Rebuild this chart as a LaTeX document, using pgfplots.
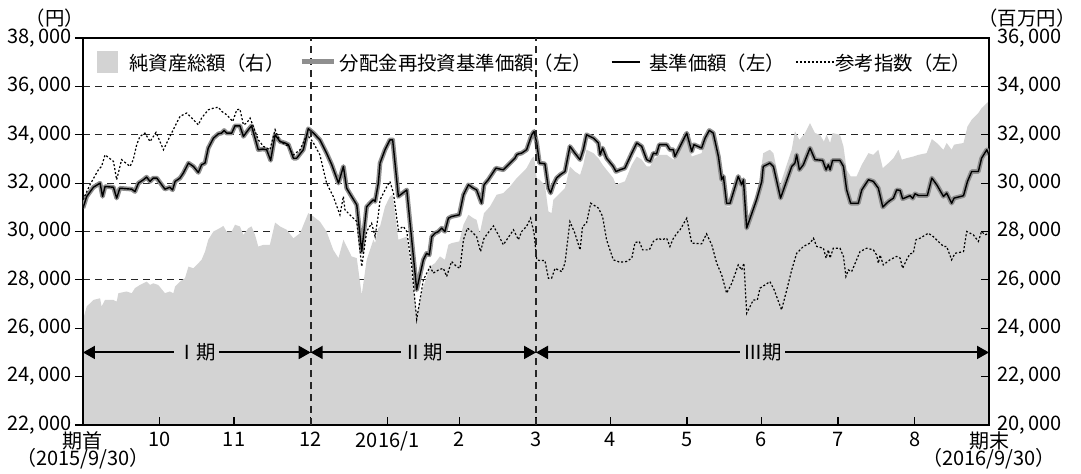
\documentclass[border=0pt]{standalone}
\usepackage{fontspec}
\setmainfont{Noto Sans CJK JP}
\usepackage{pgfplots}
\usepackage{pgfplotstable}
\pgfplotsset{compat=1.18}
\usetikzlibrary{arrows.meta}
\definecolor{areagray}{HTML}{D3D3D3}
\definecolor{navgray}{HTML}{8F8F8F}

% 基準価額（分配金再投資基準価額も同じ値）
\pgfplotstableread{
d v
0 30970
1.5 31450
4.2 31830
6.9 32000
7.9 31450
8.9 31860
12.3 31830
13.6 31380
14.9 31790
19.7 31750
21.0 31650
22.4 32000
24.4 32140
25.7 32250
27.1 32070
28.4 32210
29.8 32210
33.1 31750
35.1 31830
36.2 31720
37.2 32070
39.2 32210
40.5 32410
42.6 32830
44.6 32690
46.6 32440
47.9 32760
49.3 32830
50.6 33450
52.7 33860
54.7 34040
56.0 34070
57.0 34180
58.0 34070
60.1 34070
61.4 34370
63.4 34370
64.8 33930
66.8 34210
68.1 34370
69.5 33860
70.8 33380
72.6 33410
74.2 33380
75.8 32940
77.6 34000
79.6 33720
81.6 33660
83.0 33590
85.0 33030
86.3 33030
89.0 33380
91.0 34250
93.1 34070
95.7 33790
98.4 33240
100.5 32760
103.2 32000
105.2 32690
106.5 31790
108.5 31450
110.6 31100
112.6 29170
114.6 31030
117.3 31310
118.0 31240
119.3 32000
120.0 32830
122.0 33380
124.0 33790
125.1 33790
127.4 31450
130.8 31720
134.8 27590
137.5 28830
138.8 29100
139.9 29030
140.9 29790
142.2 29930
143.6 30000
144.9 30140
146.2 30000
147.6 30550
148.9 30620
152.0 30690
153.7 31520
155.7 31930
157.7 31790
159.0 31720
161.0 31170
162.0 31930
163.7 32140
166.8 32620
169.8 32550
172.5 32830
174.5 33030
175.2 33170
175.9 33210
177.2 33240
179.2 33380
179.9 33590
181.3 34000
182.2 34140
183.3 33660
184.4 32830
186.6 32800
188.0 31790
188.9 31590
190.0 31930
191.3 32210
192.7 32340
194.7 32480
196.7 33520
198.7 33240
200.8 32970
202.1 33380
203.4 34000
206.2 33860
208.2 33660
208.9 33170
209.9 33450
211.5 33030
214.2 32690
215.3 32480
216.9 32550
218.9 32620
221.7 33240
223.7 33660
225.7 33520
227.7 32970
229.1 32900
230.4 33240
231.7 33210
232.8 33590
235.8 33590
237.1 33380
238.5 33380
239.1 33100
240.5 33380
241.2 33520
243.9 34070
245.9 33310
246.8 33590
249.9 33450
251.3 33860
253.0 34180
254.6 34070
256.7 33100
258.0 32140
258.7 32280
260.0 31170
261.4 31170
264.7 32280
266.1 31930
266.8 32140
268.1 30140
272.1 31310
274.2 32070
274.8 32690
277.5 32830
278.9 32690
281.8 31380
286.3 32690
287.6 32830
288.3 33170
289.4 32550
291.0 32760
293.7 33450
295.7 32970
298.8 32940
300.2 32550
301.1 32760
301.8 32550
302.8 32940
305.8 32940
307.2 32690
308.5 31720
310.1 31170
313.2 31170
314.6 31720
317.3 32140
319.3 32070
321.3 31790
323.1 31010
325.4 31240
327.4 31380
328.7 31720
330.1 31700
331.1 31350
332.7 31420
334.1 31480
335.2 31370
336.1 31560
337.5 31490
341.1 31490
342.9 32210
344.9 31930
347.6 31450
348.9 31590
350.9 31170
351.9 31380
355.7 31480
357.3 32070
359.0 32480
361.7 32480
363.0 33030
365.1 33380
366.0 33170
}\navtable

% 参考指数
\pgfplotstableread{
d v
0 31310
2.8 31930
6.2 32550
7.5 32690
8.9 33170
12.3 32900
13.6 32140
15.6 32970
19.0 32690
20.3 32970
21.7 33590
23.0 33930
25.0 34070
27.1 33720
29.5 34100
32.5 33380
35.1 33930
37.8 34480
39.2 34760
41.9 34900
44.6 34620
46.6 34410
47.9 34690
50.6 35030
52.7 35100
54.7 35140
56.0 34970
58.0 34830
60.5 34550
62.1 35030
63.4 35060
64.8 34410
66.1 34480
67.5 34690
68.8 34340
70.8 33790
72.9 33520
75.5 33380
77.6 34210
79.6 33720
83.0 33520
85.0 33170
87.7 33380
90.4 34000
91.7 33860
93.1 33660
95.7 33170
98.4 32000
101.1 31450
103.8 30690
105.2 31450
105.8 30900
108.5 30620
110.6 30410
112.6 28550
114.6 30000
116.6 30340
118.0 29790
119.3 30690
120.0 31310
122.0 31720
124.0 32070
125.4 31590
127.4 30070
129.4 30210
130.8 30000
132.8 28550
134.8 26370
137.5 28000
140.2 28550
141.5 28280
143.6 28410
145.6 28480
146.9 28140
148.9 28760
150.9 28550
152.3 28480
153.7 29660
155.3 30140
157.0 30000
159.0 29790
160.6 29170
162.0 29720
165.8 30230
167.8 29860
169.8 29450
172.5 29860
173.9 30070
175.9 29660
177.2 30000
179.2 30210
180.8 30550
182.2 29930
183.3 28830
184.6 28800
186.6 28800
188.0 28070
189.3 28070
190.7 28480
193.4 28340
194.7 28690
196.7 30410
198.7 29930
200.8 29240
201.8 30210
203.4 30340
205.1 31170
208.2 30970
209.9 30620
211.5 29660
214.2 28830
216.9 28730
219.6 28760
221.7 28900
223.0 29540
224.7 29590
226.1 29240
228.8 29240
230.4 29590
232.4 29720
233.8 29660
235.8 29720
237.1 29380
238.5 29720
240.5 30000
241.2 30070
243.9 30550
245.9 29520
249.9 29490
251.9 29900
254.0 29450
256.0 28690
258.0 28210
260.0 27450
262.1 27860
264.7 28620
266.1 28410
267.0 28690
268.1 26620
270.8 27170
272.4 27170
273.5 27660
275.5 27790
277.5 27930
279.2 27590
282.2 26760
284.3 27590
286.3 28410
288.3 29100
291.0 29380
293.7 29520
295.1 29720
296.4 29380
299.1 29310
300.2 28900
301.1 29240
301.8 28900
303.1 29310
305.8 29310
307.2 28970
308.2 28140
309.2 28410
310.5 28340
313.9 29170
316.6 29310
319.3 29240
320.6 29030
321.3 28690
322.0 29030
323.3 28620
326.0 28830
328.7 28970
330.1 28900
331.1 28480
332.7 28830
334.1 29080
335.4 29100
336.5 29660
338.1 29720
341.5 29930
343.5 29790
347.6 29380
348.9 29380
350.9 28830
352.3 29100
355.7 29170
357.0 30000
359.7 29860
361.7 29590
363.0 30000
364.4 29860
366.0 29930
}\reftable

% 純資産総額（百万円、右軸）
\pgfplotstableread{
d v
0 24350
1.5 24900
4.2 25170
6.9 25240
7.5 24900
8.9 25170
12.3 25170
13.6 25100
14.3 25450
17.6 25520
19.7 25450
21.0 25660
23.0 25790
24.4 25860
25.7 25930
27.1 25790
28.4 25860
30.4 25790
33.1 25450
35.1 25520
36.5 25450
37.2 25720
39.2 25930
41.2 26070
42.6 26550
44.6 26480
46.6 26690
47.9 26830
49.3 27170
50.6 27660
52.7 28000
55.3 28140
56.7 28230
58.0 28000
60.1 28000
61.4 28280
63.4 28210
64.8 27860
66.8 28140
68.1 28210
69.5 27860
70.8 27380
72.9 27450
75.5 27450
77.6 28370
79.6 28210
82.3 28070
85.0 27720
87.7 27930
91.0 28760
93.1 28620
95.7 28410
98.4 28000
101.1 27240
103.2 26900
105.2 27660
106.5 27380
108.5 26970
110.6 26900
112.6 25380
114.6 26830
117.3 27660
118.0 27520
119.3 28140
120.0 28210
122.0 29030
124.0 29450
125.1 29520
127.4 27660
130.8 27790
134.8 24620
137.5 25720
140.2 26550
142.2 26690
144.2 26970
146.2 26830
147.6 27450
148.9 27520
152.0 27590
153.7 28280
155.7 28690
157.7 28550
159.0 28480
160.3 27930
162.0 28760
164.4 29030
167.1 29520
169.8 29590
172.5 29860
175.2 30210
177.2 30410
179.2 30620
181.3 31030
182.2 31100
183.3 30210
184.4 30140
186.6 29930
188.0 28830
189.3 28760
190.0 29310
192.7 29590
194.7 29790
196.7 30690
198.7 30480
200.8 30340
202.1 30760
203.4 31380
206.2 31240
208.2 31030
209.9 30760
211.5 30550
214.2 30210
215.3 29930
216.9 30000
218.9 30070
221.7 30760
223.7 31100
225.7 30970
227.7 30690
229.1 30690
230.4 30970
232.8 31170
235.8 31170
238.5 30970
240.5 31170
241.2 31380
243.9 31860
245.9 31100
249.9 31240
251.3 31790
253.0 32070
254.6 31930
256.7 30970
258.0 30000
260.0 29030
261.4 29030
264.7 30070
266.8 29930
268.1 28000
272.1 29240
274.8 31240
277.5 31380
278.9 31240
281.6 29930
286.3 31380
287.6 32140
289.4 31790
291.7 32070
293.7 32480
295.7 32070
297.7 32000
299.3 31720
300.4 32000
301.8 31660
302.8 32070
305.8 32000
307.2 31520
308.5 30550
310.1 30280
312.5 30280
314.6 30760
317.3 31240
319.3 31170
321.3 31380
323.1 30620
325.4 30830
327.4 31030
329.4 31380
330.8 30970
332.7 31030
335.4 31100
337.5 31170
340.8 31240
342.9 31820
344.9 31660
347.6 31380
348.9 31660
350.9 31380
351.9 31590
355.7 31660
357.3 32340
359.0 32620
361.7 32900
363.0 33100
365.1 33310
366.0 33380
}\areatable

\pgfplotsset{
  base/.style={
    scale only axis, width=453pt, height=193.5pt,
    at={(0,0)}, anchor=south west,
    xmin=0, xmax=366,
    scaled y ticks=false, scaled x ticks=false,
    ticklabel style={font=\fontsize{10}{12}\selectfont},
  },
}

\begin{document}
\begin{tikzpicture}
\path[use as bounding box] (-41.5pt,-24pt) rectangle (499pt,212.5pt);

% grid + area (right axis units)
\begin{axis}[base,
  ymin=20000, ymax=36000,
  ytick={20000,22000,...,36000}, yticklabels={},
  xtick=\empty,
  ymajorgrids,
  major grid style={black!85, line width=0.6pt, dash pattern=on 3.5pt off 2.5pt},
  axis line style={draw=none}, major tick length=0pt,
]
\addplot[fill=areagray, draw=none] table[x=d, y=v] {\areatable} \closedcycle;
\end{axis}

% frame, right axis, x axis
\begin{axis}[base,
  ymin=20000, ymax=36000,
  ytick={20000,22000,...,36000},
  yticklabels={{20,\,000},{22,\,000},{24,\,000},{26,\,000},{28,\,000},{30,\,000},{32,\,000},{34,\,000},{36,\,000}},
  ytick pos=right, yticklabel pos=right,
  xtick={0,31,61,92,123,152,183,213,244,274,305,336,366},
  xticklabels={{期首\\[-3.5pt]（2015/9/30）},10,11,12,2016/1,2,3,4,5,6,7,8,{期末\\[-3.5pt]（2016/9/30）}},
  xtick pos=left,
  x tick label style={align=center},
  yticklabel style={inner sep=4pt},
  tick align=inside, major tick length=4pt,
  axis line style={line width=0.9pt},
  tick style={black, line width=0.6pt},
]
\end{axis}

% left axis and lines
\begin{axis}[base,
  ymin=22000, ymax=38000,
  ytick={22000,24000,...,38000},
  yticklabels={{22,\,000},{24,\,000},{26,\,000},{28,\,000},{30,\,000},{32,\,000},{34,\,000},{36,\,000},{38,\,000}},
  axis x line=none, axis y line*=left,
  tick align=outside, major tick length=4pt,
  yticklabel style={inner sep=1.5pt},
  axis line style={line width=0.9pt},
  tick style={black, line width=0.6pt},
  legend columns=4,
  legend style={at={(0.01545,0.938)}, anchor=west, draw=none, fill=none,
    inner sep=0pt, column sep=0pt, font=\fontsize{9.7}{11}\selectfont,
    cells={anchor=west}, nodes={inner sep=0pt, text depth=0pt}},
]
\addlegendimage{legend image code/.code={
  \path (0pt,0pt) (15.5pt,0pt);
  \fill[areagray] (0pt,-5.25pt) rectangle (10pt,5.25pt);}}
\addplot[navgray, line width=2.3pt, line join=round,
  legend image code/.code={
  \path (0pt,0pt) (25.4pt,0pt);
  \draw[navgray, line width=2.5pt] (7.4pt,0pt) -- (23.4pt,0pt);}]
  table[x=d, y=v] {\navtable};
\addplot[black, line width=0.7pt, line join=round,
  legend image code/.code={
  \path (0pt,0pt) (27.9pt,0pt);
  \draw[black, line width=0.7pt] (9.4pt,0pt) -- (23.4pt,0pt);}]
  table[x=d, y=v] {\navtable};
\addplot[black, line width=0.6pt, dash pattern=on 1pt off 1pt,
  legend image code/.code={
  \path (0pt,0pt) (24.6pt,0pt);
  \draw[black, line width=0.6pt, dash pattern=on 1pt off 1pt] (5.1pt,0pt) -- (24.6pt,0pt);}]
  table[x=d, y=v] {\reftable};
\legend{純資産総額（右）,分配金再投資基準価額（左）,基準価額（左）,参考指数（左）}

\draw[black!85, line width=0.8pt, dash pattern=on 3.5pt off 2.5pt]
  (axis cs:92,22000) -- (axis cs:92,38000);
\draw[black!85, line width=0.8pt, dash pattern=on 3.5pt off 2.5pt]
  (axis cs:183,22000) -- (axis cs:183,38000);

\begin{scope}[line width=1pt, {Triangle[length=6pt,width=6.5pt]}-{Triangle[length=6pt,width=6.5pt]},
  every node/.style={fill=areagray, inner sep=1.5pt, font=\fontsize{9.7}{11}\selectfont}]
\draw (axis cs:0,25000) -- node{Ⅰ期} (axis cs:92,25000);
\draw (axis cs:92,25000) -- node{Ⅱ期} (axis cs:183,25000);
\draw (axis cs:183,25000) -- node{Ⅲ期} (axis cs:366,25000);
\end{scope}
\end{axis}

\node[anchor=east, inner sep=0pt, font=\fontsize{9.7}{11}\selectfont] at (0.8pt,203.25pt) {（円）};
\node[anchor=west, inner sep=0pt, font=\fontsize{9.7}{11}\selectfont] at (447.5pt,203.25pt) {（百万円）};
\end{tikzpicture}
\end{document}
